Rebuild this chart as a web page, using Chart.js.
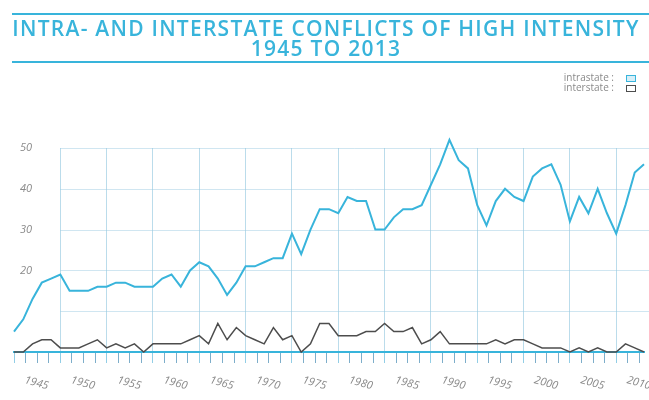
<!DOCTYPE html>
<html>
<head>
<meta charset="utf-8">
<script src="https://cdn.jsdelivr.net/npm/chart.js"></script>
<style>
  body { margin: 0; background: #fff; }
  #wrap { position: relative; width: 649px; height: 400px; overflow: hidden; }
  #chart { position: absolute; left: 0; top: 0; }
  #header {
    position: absolute; top: 13px; left: 12px; width: 628px; padding: 3px 9px 3px 0;
    border-top: 2px solid #38b4db; border-bottom: 2px solid #38b4db;
    color: #38b4db; font: 600 21px/20px "Open Sans", sans-serif; letter-spacing: 1.25px;
    text-align: center; white-space: nowrap;
  }
  #legend {
    position: absolute; top: 72px; right: 13px;
    font: 10px/10px "Open Sans", sans-serif; color: #8a8a8a; text-align: right;
  }
  #legend .box { display: inline-block; width: 8px; height: 5px; margin-left: 12px; vertical-align: middle; }
</style>
</head>
<body>
<div id="wrap">
  <canvas id="chart" width="649" height="400"></canvas>
  <div id="header">INTRA- AND INTERSTATE CONFLICTS OF HIGH INTENSITY<br>1945 TO 2013</div>
  <div id="legend"></div>
</div>
<script>
const years = [
  1945, 1946, 1947, 1948, 1949, 1950, 1951, 1952, 1953, 1954,
  1955, 1956, 1957, 1958, 1959, 1960, 1961, 1962, 1963, 1964,
  1965, 1966, 1967, 1968, 1969, 1970, 1971, 1972, 1973, 1974,
  1975, 1976, 1977, 1978, 1979, 1980, 1981, 1982, 1983, 1984,
  1985, 1986, 1987, 1988, 1989, 1990, 1991, 1992, 1993, 1994,
  1995, 1996, 1997, 1998, 1999, 2000, 2001, 2002, 2003, 2004,
  2005, 2006, 2007, 2008, 2009, 2010, 2011, 2012, 2013
];
const intrastate = [
  5, 8, 13, 17, 18, 19, 15, 15, 15, 16,
  16, 17, 17, 16, 16, 16, 18, 19, 16, 20,
  22, 21, 18, 14, 17, 21, 21, 22, 23, 23,
  29, 24, 30, 35, 35, 34, 38, 37, 37, 30,
  30, 33, 35, 35, 36, 41, 46, 52, 47, 45,
  36, 31, 37, 40, 38, 37, 43, 45, 46, 41,
  32, 38, 34, 40, 34, 29, 36, 44, 46
];
const interstate = [
  0, 0, 2, 3, 3, 1, 1, 1, 2, 3,
  1, 2, 1, 2, 0, 2, 2, 2, 2, 3,
  4, 2, 7, 3, 6, 4, 3, 2, 6, 3,
  4, 0, 2, 7, 7, 4, 4, 4, 5, 5,
  7, 5, 5, 6, 2, 3, 5, 2, 2, 2,
  2, 2, 3, 2, 3, 3, 2, 1, 1, 1,
  0, 1, 0, 1, 0, 0, 2, 1, 0
];
const yearLabels = [1945, 1950, 1955, 1960, 1965, 1970, 1975, 1980, 1985, 1990, 1995, 2000, 2005, 2010];
const valueLabels = [20, 30, 40, 50];

const CYAN = "#38b4db";
const DARK = "#4d4d4d";

// ticks every quarter of a 5-year span, like the original
let xTicks = [];
for (let v = 1945; v < 2013; v += 1.25) xTicks.push(v);

// horizontal grid starts at the 1950 line
const hGrid = {
  id: "hGrid",
  beforeDatasetsDraw(chart) {
    const { ctx, scales: { x, y } } = chart;
    ctx.save();
    ctx.strokeStyle = "rgba(150,200,225,0.45)";
    ctx.lineWidth = 1;
    [10, 20, 30, 40, 50].forEach((v) => {
      const py = Math.round(y.getPixelForValue(v)) + 0.5;
      ctx.beginPath();
      ctx.moveTo(x.getPixelForValue(1950), py);
      ctx.lineTo(chart.width, py);
      ctx.stroke();
    });
    ctx.restore();
  }
};

// year labels rotated clockwise, starting right of their grid line
const yearText = {
  id: "yearText",
  afterDraw(chart) {
    const { ctx, scales: { x }, chartArea } = chart;
    ctx.save();
    ctx.fillStyle = "#8a8a8a";
    ctx.font = "italic 11px 'Open Sans'";
    ctx.textAlign = "left";
    ctx.textBaseline = "alphabetic";
    yearLabels.forEach((yr) => {
      ctx.save();
      ctx.translate(x.getPixelForValue(yr) + 10, chartArea.bottom + 31);
      ctx.rotate((15 * Math.PI) / 180);
      ctx.fillText(String(yr), 0, 0);
      ctx.restore();
    });
    ctx.restore();
  }
};

const chart = new Chart(document.getElementById("chart"), {
  type: "line",
  data: {
    datasets: [
      {
        label: "intrastate",
        data: years.map((yr, i) => ({ x: yr, y: intrastate[i] })),
        borderColor: CYAN,
        backgroundColor: "#d6eff8",
        borderWidth: 2,
        pointRadius: 0,
        tension: 0,
        clip: false
      },
      {
        label: "interstate",
        data: years.map((yr, i) => ({ x: yr, y: interstate[i] })),
        borderColor: DARK,
        backgroundColor: "#ffffff",
        borderWidth: 1.5,
        pointRadius: 0,
        tension: 0,
        clip: false
      }
    ]
  },
  options: {
    responsive: false,
    animation: false,
    layout: { padding: { left: 14, right: 5, top: 148, bottom: 0 } },
    plugins: {
      legend: { display: false },
      tooltip: { enabled: false },
      title: { display: false }
    },
    scales: {
      x: {
        type: "linear",
        min: 1945,
        max: 2013,
        afterBuildTicks: (s) => {
          s.ticks = xTicks.map((v) => ({ value: v, major: v % 5 === 0 }));
        },
        afterFit: (s) => { s.height = 48; },
        ticks: { display: false },
        grid: {
          color: (c) => (c.tick && c.tick.value % 5 === 0 && c.tick.value > 1945 ? "rgba(120,185,215,0.5)" : "rgba(0,0,0,0)"),
          tickColor: (c) => (c.tick && c.tick.value % 5 === 0 ? "rgba(100,185,220,0.7)" : "rgba(70,140,180,0.7)"),
          tickLength: 11,
          lineWidth: 1
        },
        border: { color: CYAN, width: 2 }
      },
      y: {
        min: 0,
        max: 50,
        afterFit: (s) => { s.width = 0; },
        ticks: {
          stepSize: 10,
          mirror: true,
          padding: 6,
          color: "#8a8a8a",
          font: { family: "Open Sans", style: "italic", size: 11 },
          callback: (v) => (valueLabels.includes(v) ? String(v) : "")
        },
        grid: { display: false },
        border: { display: false }
      }
    }
  },
  plugins: [hGrid, yearText]
});

// legend: label text then a small outlined box
let legendHtml = "";
chart.data.datasets.forEach((ds) => {
  legendHtml += `<div>${ds.label} :<span class="box" style="border:1.5px solid ${ds.borderColor};background:${ds.backgroundColor}"></span></div>`;
});
document.getElementById("legend").innerHTML = legendHtml;
</script>
</body>
</html>
